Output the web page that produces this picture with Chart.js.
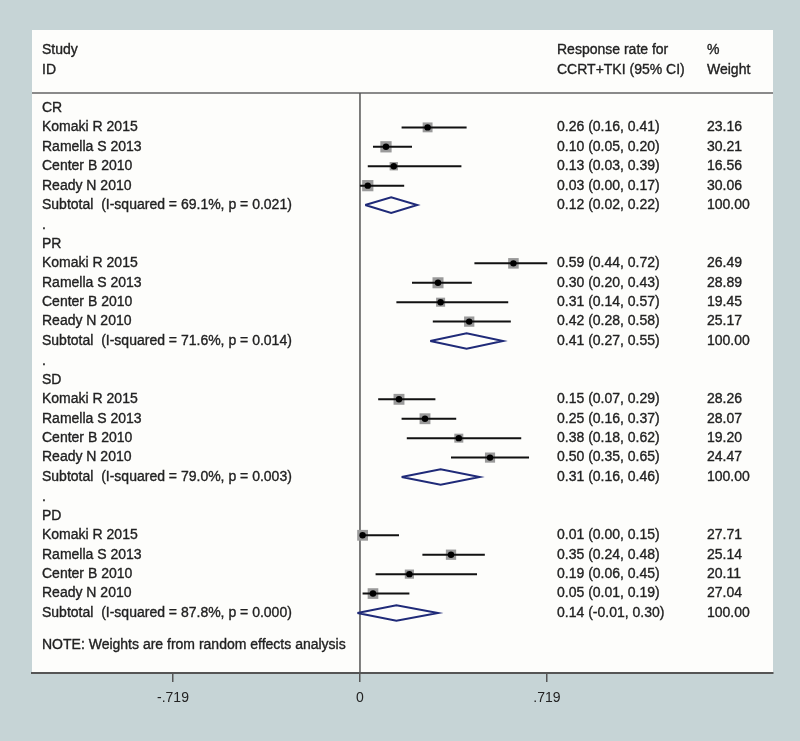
<!DOCTYPE html>
<html>
<head>
<meta charset="utf-8">
<script src="https://cdn.jsdelivr.net/npm/chart.js@4.4.0/dist/chart.umd.min.js"></script>
<style>
  html, body { margin: 0; padding: 0; background: #c6d4d6; }
</style>
</head>
<body>
<canvas id="forest" width="800" height="741"></canvas>
<script>
// Datos del forest plot (tasa de respuesta CCRT+TKI)
const grupos = ['CR', 'PR', 'SD', 'PD'];
const estudios = ['Komaki R 2015', 'Ramella S 2013', 'Center B 2010', 'Ready N 2010'];

const estimados = [
    [0.26, 0.10, 0.13, 0.03],
    [0.59, 0.30, 0.31, 0.42],
    [0.15, 0.25, 0.38, 0.50],
    [0.01, 0.35, 0.19, 0.05]
];
const inferiores = [
    [0.16, 0.05, 0.03, 0.00],
    [0.44, 0.20, 0.14, 0.28],
    [0.07, 0.16, 0.18, 0.35],
    [0.00, 0.24, 0.06, 0.01]
];
const superiores = [
    [0.41, 0.20, 0.39, 0.17],
    [0.72, 0.43, 0.57, 0.58],
    [0.29, 0.37, 0.62, 0.65],
    [0.15, 0.48, 0.45, 0.19]
];
const pesos = [
    [23.16, 30.21, 16.56, 30.06],
    [26.49, 28.89, 19.45, 25.17],
    [28.26, 28.07, 19.20, 24.47],
    [27.71, 25.14, 20.11, 27.04]
];

// Subtotales (efectos aleatorios)
const subEstimado = [0.12, 0.41, 0.31, 0.14];
const subInferior = [0.02, 0.27, 0.16, -0.01];
const subSuperior = [0.22, 0.55, 0.46, 0.30];
const iCuadrado = ['69.1', '71.6', '79.0', '87.8'];
const valoresP = ['0.021', '0.014', '0.003', '0.000'];

// Eje X
const marcasX = [-0.719, 0, 0.719];
const etiquetasX = ['-.719', '0', '.719'];
const xMin = -1.261, xMax = 1.588;
const yMin = -0.77, yMax = 29.09;
const filaNota = 27.65;

const FUENTE = '14px "Liberation Sans", Arial, sans-serif';
const COLOR_TEXTO = '#222';

// Fila de cada elemento
function filaEstudio(g, i) { return g * 7 + 1 + i; }
function filaSubtotal(g) { return g * 7 + 5; }

let datasets = [];

// Línea vertical de referencia en cero
datasets.push({
    data: [{ x: 0, y: yMin }, { x: 0, y: yMax }],
    showLine: true, borderColor: '#555', borderWidth: 1.5, pointRadius: 0, order: 4
});

grupos.forEach((g, gi) => {
    estudios.forEach((e, i) => {
        const fila = filaEstudio(gi, i);
        // Intervalo de confianza
        datasets.push({
            data: [{ x: inferiores[gi][i], y: fila }, { x: superiores[gi][i], y: fila }],
            showLine: true, borderColor: '#111', borderWidth: 2, pointRadius: 0, order: 1
        });
    });
    // Diamante del subtotal
    const f = filaSubtotal(gi);
    datasets.push({
        data: [
            { x: subInferior[gi], y: f },
            { x: subEstimado[gi], y: f - 0.4 },
            { x: subSuperior[gi], y: f },
            { x: subEstimado[gi], y: f + 0.4 },
            { x: subInferior[gi], y: f }
        ],
        showLine: true, borderColor: '#1f2a78', borderWidth: 2, pointRadius: 0, fill: false, order: 1
    });
});

// Cuadrados grises (tamaño según peso) y punto central negro
let cuadrados = [], radios = [], puntos = [];
grupos.forEach((g, gi) => {
    estudios.forEach((e, i) => {
        cuadrados.push({ x: estimados[gi][i], y: filaEstudio(gi, i) });
        radios.push(1.45 * Math.sqrt(pesos[gi][i]));
        puntos.push({ x: estimados[gi][i], y: filaEstudio(gi, i) });
    });
});
datasets.push({
    data: cuadrados, pointStyle: 'rect', pointRadius: radios,
    backgroundColor: '#9a9a9a', borderWidth: 0, order: 2
});
datasets.push({
    data: puntos, pointStyle: 'circle', pointRadius: 3.2,
    backgroundColor: '#000', borderWidth: 0, order: 0
});

// Plugin: fondo, panel blanco, encabezado y columnas de texto
const pluginTexto = {
    id: 'textoForest',
    beforeDraw(chart) {
        const ctx = chart.ctx;
        const area = chart.chartArea;
        ctx.save();
        ctx.fillStyle = '#c6d4d6';
        ctx.fillRect(0, 0, chart.width, chart.height);
        ctx.fillStyle = '#fdfdfb';
        ctx.fillRect(area.left, 30, area.right - area.left, area.bottom - 30);
        ctx.strokeStyle = '#8a8a8a';
        ctx.lineWidth = 2;
        ctx.beginPath();
        ctx.moveTo(area.left, area.top);
        ctx.lineTo(area.right, area.top);
        ctx.stroke();
        ctx.restore();
    },
    afterDatasetsDraw(chart) {
        const ctx = chart.ctx;
        const y = chart.scales.y;
        const xIzq = 42, xVal = 557, xPeso = 707;
        ctx.save();
        ctx.font = FUENTE;
        ctx.fillStyle = COLOR_TEXTO;
        ctx.strokeStyle = COLOR_TEXTO;
        ctx.lineWidth = 0.35;
        ctx.textBaseline = 'middle';
        ctx.textAlign = 'left';
        const texto = (t, x, yy) => { ctx.fillText(t, x, yy); ctx.strokeText(t, x, yy); };

        // Encabezado
        texto('Study', xIzq, 50);
        texto('ID', xIzq, 70);
        texto('Response rate for', xVal, 50);
        texto('CCRT+TKI (95% CI)', xVal, 70);
        texto('%', xPeso, 50);
        texto('Weight', xPeso, 70);

        grupos.forEach((g, gi) => {
            texto(g, xIzq, y.getPixelForValue(gi * 7));
            estudios.forEach((e, i) => {
                const py = y.getPixelForValue(filaEstudio(gi, i));
                texto(e, xIzq, py);
                texto(estimados[gi][i].toFixed(2) + ' (' + inferiores[gi][i].toFixed(2) + ', ' +
                    superiores[gi][i].toFixed(2) + ')', xVal, py);
                texto(pesos[gi][i].toFixed(2), xPeso, py);
            });
            const ps = y.getPixelForValue(filaSubtotal(gi));
            texto('Subtotal  (I-squared = ' + iCuadrado[gi] + '%, p = ' + valoresP[gi] + ')', xIzq, ps);
            texto(subEstimado[gi].toFixed(2) + ' (' + subInferior[gi].toFixed(2) + ', ' +
                subSuperior[gi].toFixed(2) + ')', xVal, ps);
            texto('100.00', xPeso, ps);
            if (gi < grupos.length - 1) {
                texto('.', xIzq, y.getPixelForValue(filaSubtotal(gi) + 1) + 1);
            }
        });
        texto('NOTE: Weights are from random effects analysis', xIzq, y.getPixelForValue(filaNota));
        ctx.restore();
    }
};

new Chart(document.getElementById('forest').getContext('2d'), {
    type: 'scatter',
    data: { datasets: datasets },
    options: {
        responsive: false,
        animation: false,
        layout: { padding: { left: 32, right: 27, top: 93, bottom: 0 } },
        plugins: { legend: { display: false }, tooltip: { enabled: false } },
        scales: {
            x: {
                type: 'linear',
                min: xMin,
                max: xMax,
                afterBuildTicks: (s) => { s.ticks = marcasX.map(v => ({ value: v })); },
                afterFit: (s) => { s.height = 68; },
                ticks: {
                    autoSkip: false,
                    maxRotation: 0,
                    padding: 8,
                    color: COLOR_TEXTO,
                    font: { family: '"Liberation Sans", Arial, sans-serif', size: 14 },
                    callback: (v) => etiquetasX[marcasX.indexOf(v)]
                },
                grid: {
                    drawOnChartArea: false,
                    drawTicks: true,
                    tickLength: 9,
                    color: '#555',
                    lineWidth: 1.5
                },
                border: { display: true, color: '#555', width: 2 }
            },
            y: {
                type: 'linear',
                display: false,
                reverse: true,
                min: yMin,
                max: yMax
            }
        }
    },
    plugins: [pluginTexto]
});
</script>
</body>
</html>
